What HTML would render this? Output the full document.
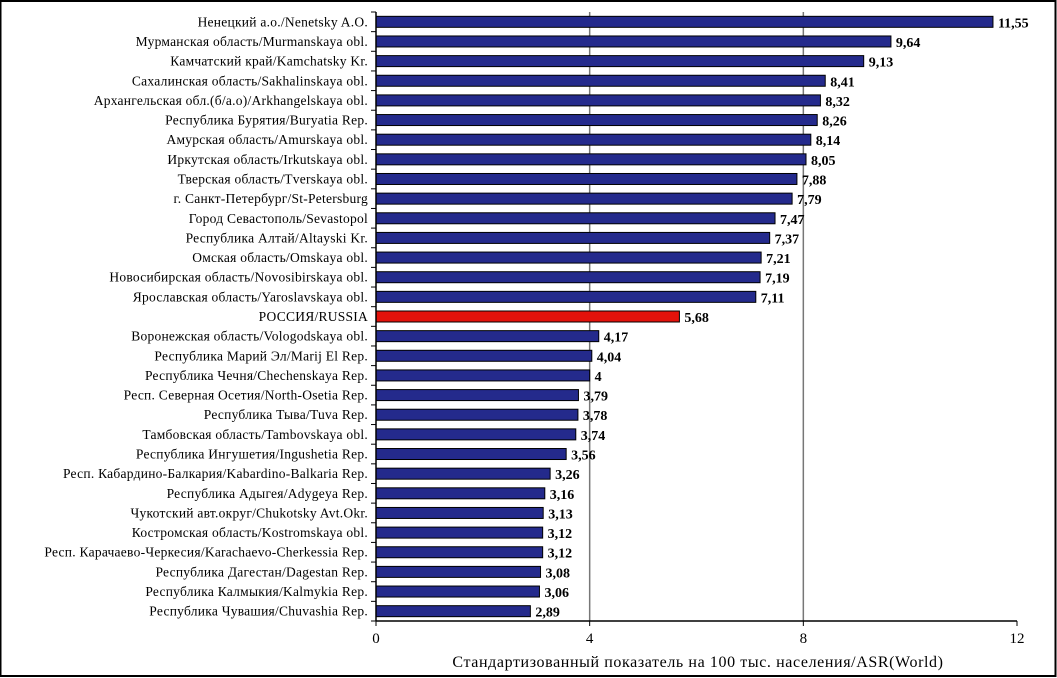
<!DOCTYPE html>
<html><head><meta charset="utf-8"><style>
body{margin:0;background:#fff}
svg{display:block}
svg text{font-family:"Liberation Serif",serif}
</style></head><body>
<svg id="c" width="1057" height="678">
<rect x="0.5" y="1" width="1055" height="675" fill="#fff" stroke="#000" stroke-width="2"/>
</svg>
<script>
const categories=["Ненецкий а.о./Nenetsky A.O.","Мурманская область/Murmanskaya obl.","Камчатский край/Kamchatsky Kr.","Сахалинская область/Sakhalinskaya obl.","Архангельская обл.(б/а.о)/Arkhangelskaya obl.","Республика Бурятия/Buryatia Rep.","Амурская область/Amurskaya obl.","Иркутская область/Irkutskaya obl.","Тверская область/Tverskaya obl.","г. Санкт-Петербург/St-Petersburg","Город Севастополь/Sevastopol","Республика Алтай/Altayski Kr.","Омская область/Omskaya obl.","Новосибирская область/Novosibirskaya obl.","Ярославская область/Yaroslavskaya obl.","РОССИЯ/RUSSIA","Воронежская область/Vologodskaya obl.","Республика Марий Эл/Marij El Rep.","Республика Чечня/Chechenskaya Rep.","Респ. Северная Осетия/North-Osetia Rep.","Республика Тыва/Tuva Rep.","Тамбовская область/Tambovskaya obl.","Республика Ингушетия/Ingushetia Rep.","Респ. Кабардино-Балкария/Kabardino-Balkaria Rep.","Республика Адыгея/Adygeya Rep.","Чукотский авт.округ/Chukotsky Avt.Okr.","Костромская область/Kostromskaya obl.","Респ. Карачаево-Черкесия/Karachaevo-Cherkessia Rep.","Республика Дагестан/Dagestan Rep.","Республика Калмыкия/Kalmykia Rep.","Республика Чувашия/Chuvashia Rep."];
const values=[11.55,9.64,9.13,8.41,8.32,8.26,8.14,8.05,7.88,7.79,7.47,7.37,7.21,7.19,7.11,5.68,4.17,4.04,4,3.79,3.78,3.74,3.56,3.26,3.16,3.13,3.12,3.12,3.08,3.06,2.89];
const valueLabels=["11,55","9,64","9,13","8,41","8,32","8,26","8,14","8,05","7,88","7,79","7,47","7,37","7,21","7,19","7,11","5,68","4,17","4,04","4","3,79","3,78","3,74","3,56","3,26","3,16","3,13","3,12","3,12","3,08","3,06","2,89"];
const ticks=[0,4,8,12];
const highlight="РОССИЯ/RUSSIA";
const svg=document.getElementById('c'),NS="http://www.w3.org/2000/svg";
const X0=376,X1=1017,XMAX=12,TOP=12,BOT=621;
const x=v=>X0+(X1-X0)*v/XMAX;
const rh=(BOT-TOP)/categories.length;
const yc=i=>TOP+rh*(i+0.5);
function mk(t,a,txt){const e=document.createElementNS(NS,t);for(const k in a)e.setAttribute(k,a[k]);if(txt!=null)e.textContent=txt;svg.appendChild(e);return e;}
ticks.forEach((t,i)=>{
 if(t>0&&t<XMAX){const g=mk('line',{x1:x(t),x2:x(t),y1:TOP,y2:BOT,stroke:'#777','stroke-width':1.5});
 
 }
 const tl=mk('text',{x:x(t),y:BOT+22,'font-size':15,'text-anchor':'middle'},String(t));
 
 
 const tk=mk('line',{x1:x(t),x2:x(t),y1:BOT,y2:BOT+5,stroke:'#000'});
 
 
});
for(let i=0;i<=categories.length;i++){const t=mk('line',{x1:X0-5,x2:X0,y1:TOP+rh*i,y2:TOP+rh*i,stroke:'#000'});
 
 }
categories.forEach((c,i)=>{
 const r=mk('rect',{x:X0,y:yc(i)-5.5,width:x(values[i])-X0,height:11,fill:c===highlight?'#e3120b':'#242a8c',stroke:'#000','stroke-width':1});
 
 
 const l=mk('text',{x:X0-8,y:yc(i)+4.5,'font-size':13.5,'letter-spacing':0.25,'text-anchor':'end'},c);
 
 
 const v=mk('text',{x:x(values[i])+5,y:yc(i)+5.5,'font-size':14,'font-weight':'bold'},valueLabels[i]);
 
 
});
const ax=mk('line',{x1:X0,x2:X1,y1:BOT,y2:BOT,stroke:'#000','stroke-width':1.5});


const ay=mk('line',{x1:X0,x2:X0,y1:TOP,y2:BOT,stroke:'#000','stroke-width':1.5});


const tt=mk('text',{x:698,y:667,'font-size':16,'letter-spacing':0.6,'text-anchor':'middle'},"Стандартизованный показатель на 100 тыс. населения/ASR(World)");


</script>
</body></html>
